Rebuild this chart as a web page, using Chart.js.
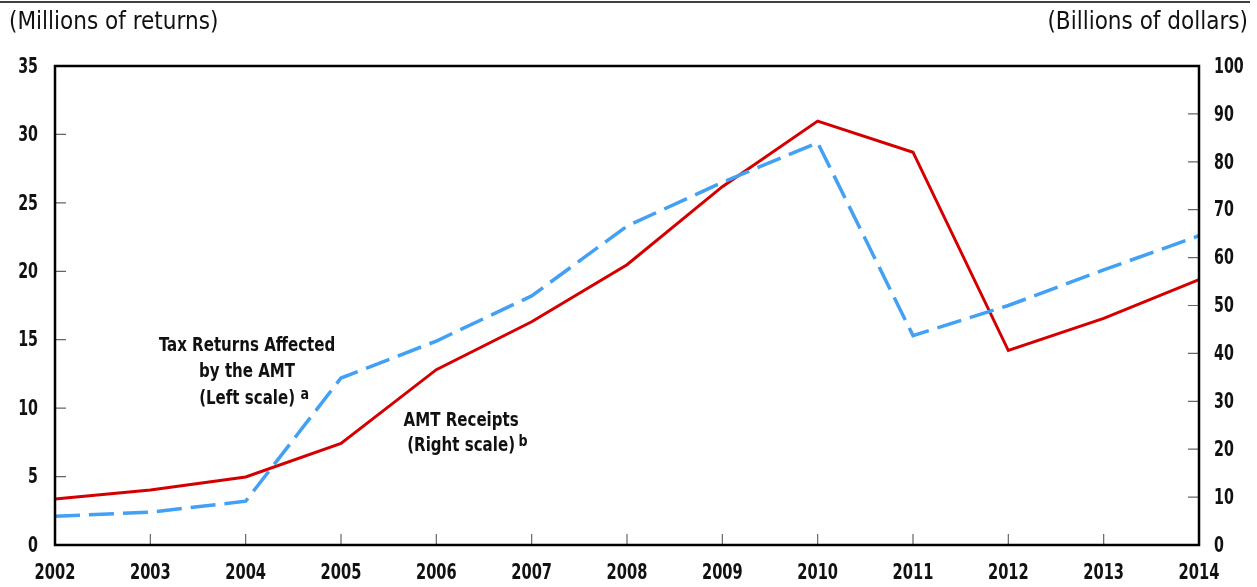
<!DOCTYPE html>
<html>
<head>
<meta charset="utf-8">
<script src="https://cdn.jsdelivr.net/npm/chart.js@4.4.1/dist/chart.umd.min.js"></script>
<style>
  html, body { margin: 0; padding: 0; background: #fff; }
  #wrap { width: 1257px; height: 587px; position: relative; }
</style>
</head>
<body>
<div id="wrap"><canvas id="grafico"></canvas></div>
<script>
// Dados do gráfico
const anos = ["2002", "2003", "2004", "2005", "2006", "2007", "2008", "2009", "2010", "2011", "2012", "2013", "2014"];
// Declarações afetadas pelo AMT (milhões, escala da esquerda)
const declaracoes = [2.1, 2.4, 3.2, 12.2, 14.9, 18.2, 23.3, 26.5, 29.4, 15.3, 17.5, 20.1, 22.6];
// Receitas do AMT (bilhões de dólares, escala da direita)
const receitas = [9.6, 11.5, 14.2, 21.2, 36.6, 46.6, 58.5, 74.8, 88.5, 82.0, 40.6, 47.3, 55.4];
const ticksEsquerda = [0, 5, 10, 15, 20, 25, 30, 35];
const ticksDireita = [0, 10, 20, 30, 40, 50, 60, 70, 80, 90, 100];

const fonte = '"DejaVu Sans Condensed", "Liberation Sans Narrow", sans-serif';

// Texto comprimido na horizontal (a fonte original é bem estreita)
function textoEstreito(ctx, txt, x, y, escala) {
    ctx.save();
    ctx.translate(x, y);
    ctx.scale(escala, 1);
    ctx.fillText(txt, 0, 0);
    ctx.restore();
}

// Plugin para moldura, marcas internas, rótulos, títulos e anotações
const extras = {
    id: 'extras',
    afterDraw(chart) {
        const ctx = chart.ctx;
        const a = chart.chartArea;
        const sx = chart.scales.x, sy = chart.scales.y, sy2 = chart.scales.y2;
        ctx.save();

        // linha superior
        ctx.strokeStyle = '#000';
        ctx.lineWidth = 1.5;
        ctx.beginPath();
        ctx.moveTo(0, 2); ctx.lineTo(1250, 2);
        ctx.stroke();

        // marcas internas
        ctx.strokeStyle = '#666';
        ctx.lineWidth = 1.2;
        ctx.beginPath();
        for (let i = 1; i < anos.length - 1; i++) {
            const px = sx.getPixelForValue(i);
            ctx.moveTo(px, a.bottom); ctx.lineTo(px, a.bottom - 11);
        }
        ticksEsquerda.slice(1, -1).forEach(function(v) {
            const py = sy.getPixelForValue(v);
            ctx.moveTo(a.left, py); ctx.lineTo(a.left + 11, py);
        });
        ticksDireita.slice(1, -1).forEach(function(v) {
            const py = sy2.getPixelForValue(v);
            ctx.moveTo(a.right, py); ctx.lineTo(a.right - 11, py);
        });
        ctx.stroke();

        // moldura
        ctx.strokeStyle = '#000';
        ctx.lineWidth = 2.5;
        ctx.strokeRect(a.left, a.top, a.right - a.left, a.bottom - a.top);

        // rótulos dos eixos
        ctx.fillStyle = '#111';
        ctx.font = 'bold 22px ' + fonte;
        ctx.textBaseline = 'middle';
        ctx.textAlign = 'right';
        ticksEsquerda.forEach(function(v) {
            textoEstreito(ctx, String(v), 38, sy.getPixelForValue(v) + 1, 0.72);
        });
        ctx.textAlign = 'left';
        ticksDireita.forEach(function(v) {
            textoEstreito(ctx, String(v), 1214, sy2.getPixelForValue(v) + 1, 0.72);
        });
        ctx.textAlign = 'center';
        anos.forEach(function(ano, i) {
            textoEstreito(ctx, ano, sx.getPixelForValue(i), a.bottom + 28, 0.74);
        });

        // títulos dos eixos
        ctx.font = '24px ' + fonte;
        ctx.textAlign = 'left';
        ctx.fillText('(Millions of returns)', 9, 23);
        ctx.textAlign = 'right';
        ctx.fillText('(Billions of dollars)', 1248, 23);

        // anotações
        ctx.font = 'bold 19px ' + fonte;
        ctx.textAlign = 'center';
        const xa = sx.getPixelForValue(2.015);
        textoEstreito(ctx, 'Tax Returns Affected', xa, sy.getPixelForValue(14.5), 0.88);
        textoEstreito(ctx, 'by the AMT', xa, sy.getPixelForValue(12.65), 0.88);
        textoEstreito(ctx, '(Left scale)', xa, sy.getPixelForValue(10.65), 0.88);
        ctx.font = 'bold 16px ' + fonte;
        textoEstreito(ctx, 'a', sx.getPixelForValue(2.62), sy.getPixelForValue(10.95), 0.88);

        ctx.font = 'bold 19px ' + fonte;
        const xb = sx.getPixelForValue(4.26);
        textoEstreito(ctx, 'AMT Receipts', xb, sy.getPixelForValue(9.05), 0.88);
        textoEstreito(ctx, '(Right scale)', xb, sy.getPixelForValue(7.2), 0.88);
        ctx.font = 'bold 16px ' + fonte;
        textoEstreito(ctx, 'b', sx.getPixelForValue(4.91), sy.getPixelForValue(7.55), 0.88);

        ctx.restore();
    }
};

const contexto = document.getElementById('grafico').getContext('2d');
const meuGrafico = new Chart(contexto, {
    type: 'line',
    data: {
        labels: anos,
        datasets: [{
            label: 'Tax Returns Affected by the AMT',
            data: declaracoes,
            yAxisID: 'y',
            borderColor: '#42A0F5',
            borderWidth: 3.5,
            borderDash: [25, 9],
            pointRadius: 0,
            tension: 0,
            fill: false
        }, {
            label: 'AMT Receipts',
            data: receitas,
            yAxisID: 'y2',
            borderColor: '#D40000',
            borderWidth: 3,
            pointRadius: 0,
            tension: 0,
            fill: false
        }]
    },
    options: {
        responsive: true,
        maintainAspectRatio: false,
        animation: false,
        layout: { padding: { top: 66, left: 0, right: 0, bottom: 0 } },
        plugins: { legend: { display: false }, tooltip: { enabled: false } },
        scales: {
            x: {
                offset: false,
                grid: { display: false, drawTicks: false },
                border: { display: false },
                ticks: { display: false, autoSkip: false },
                afterFit: function(s) { s.height = 42; }
            },
            y: {
                position: 'left',
                min: 0, max: 35,
                grid: { display: false, drawTicks: false },
                border: { display: false },
                ticks: { display: false, stepSize: 5 },
                afterFit: function(s) { s.width = 55; }
            },
            y2: {
                position: 'right',
                min: 0, max: 100,
                grid: { display: false, drawTicks: false },
                border: { display: false },
                ticks: { display: false, stepSize: 10 },
                afterFit: function(s) { s.width = 58; }
            }
        }
    },
    plugins: [extras]
});
</script>
</body>
</html>
